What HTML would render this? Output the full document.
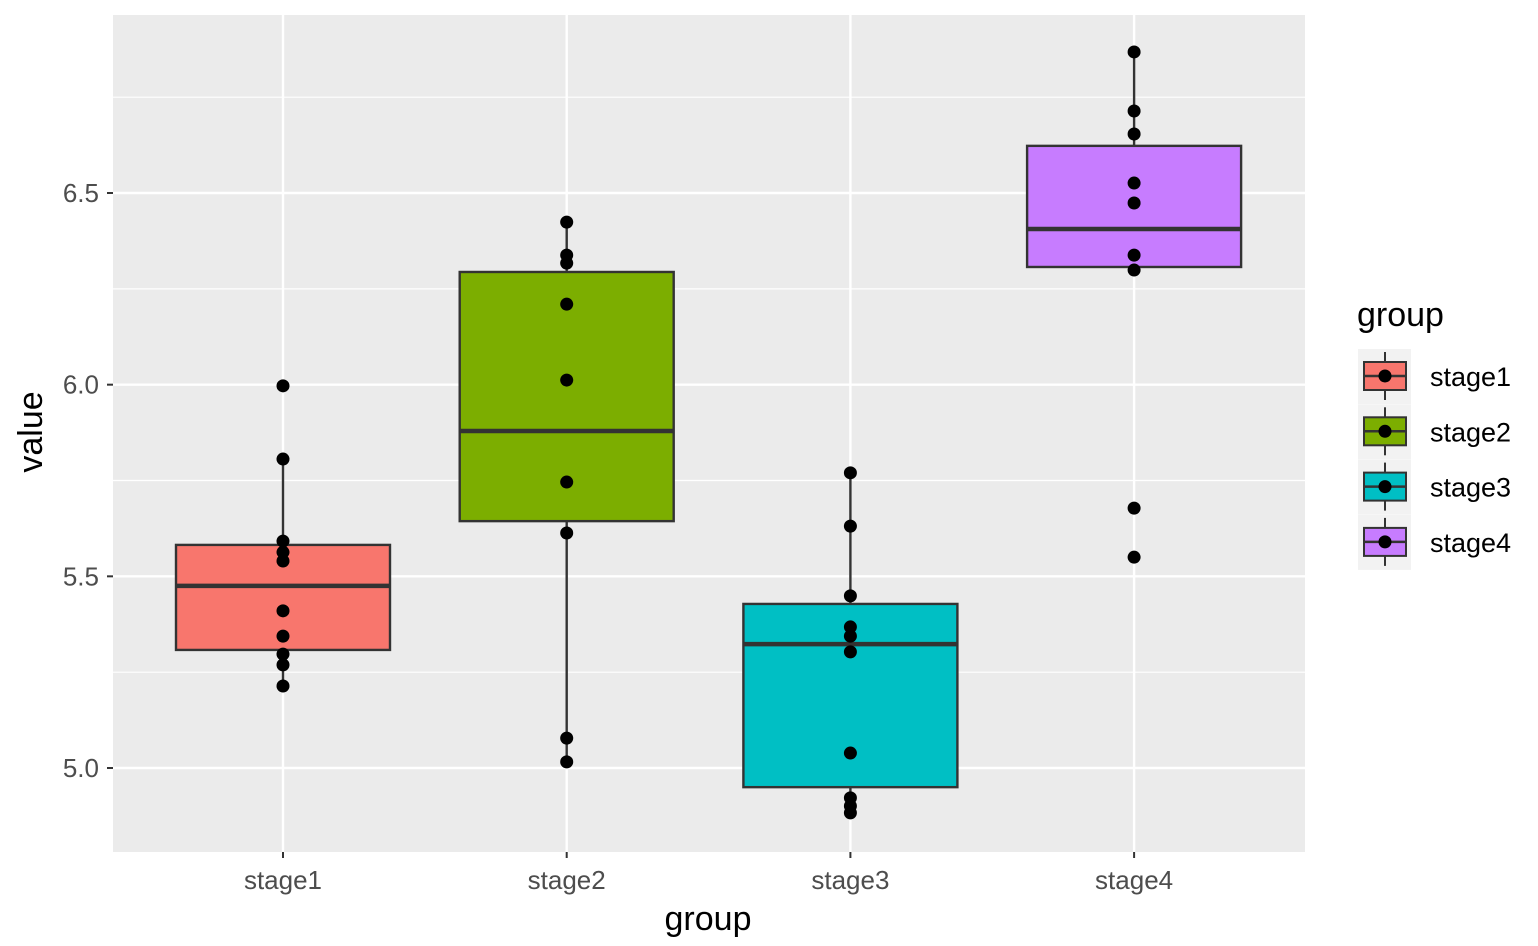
<!DOCTYPE html>
<html><head><meta charset="utf-8"><style>
body{margin:0;background:#fff;}
svg{display:block;font-family:"Liberation Sans",Arial,sans-serif;}
</style></head><body>
<svg id="chart" width="1538" height="946"></svg>
<script>
const categories=["stage1","stage2","stage3","stage4"];
const colors=["#F8766D","#7CAE00","#00BFC4","#C77CFF"];
const q1=[5.308,5.644,4.950,6.307];
const medians=[5.475,5.879,5.323,6.406];
const q3=[5.582,6.294,5.428,6.623];
const whiskLo=[5.214,5.016,4.883,6.307];
const whiskHi=[5.806,6.424,5.770,6.868];
const points=[
[5.997,5.806,5.592,5.563,5.540,5.410,5.344,5.297,5.269,5.214],
[6.424,6.338,6.317,6.210,6.012,5.746,5.613,5.078,5.016],
[5.770,5.631,5.449,5.368,5.344,5.303,5.039,4.922,4.901,4.883],
[6.868,6.714,6.654,6.526,6.474,6.338,6.299,5.678,5.550]];
const yTicks=[5.0,5.5,6.0,6.5];
const yMinor=[5.25,5.75,6.25,6.75];
const tickLabels=["5.0","5.5","6.0","6.5"];

const NS="http://www.w3.org/2000/svg";
const svg=document.getElementById("chart");
const PL=113,PR=1305,PT=15,PB=852;
const y=v=>768-(v-5)*383.33;
const x=i=>283+i*283.7;
function mk(t,a,p){const e=document.createElementNS(NS,t);for(const k in a)e.setAttribute(k,a[k]);(p||svg).appendChild(e);return e;}

let bg=mk("rect",{x:PL,y:PT,width:PR-PL,height:PB-PT,fill:"#EBEBEB"});


yMinor.forEach(v=>{let l=mk("line",{x1:PL,x2:PR,y1:y(v),y2:y(v),stroke:"#fff","stroke-width":1.2});

});
yTicks.forEach((v,i)=>{let l=mk("line",{x1:PL,x2:PR,y1:y(v),y2:y(v),stroke:"#fff","stroke-width":2.4});


mk("line",{x1:PL-6,x2:PL,y1:y(v),y2:y(v),stroke:"#333","stroke-width":2});
let t=mk("text",{x:PL-14,y:y(v)+9,"text-anchor":"end","font-size":26,fill:"#4D4D4D"});t.textContent=tickLabels[i];

});
categories.forEach((c,i)=>{let l=mk("line",{x1:x(i),x2:x(i),y1:PT,y2:PB,stroke:"#fff","stroke-width":2.4});


mk("line",{x1:x(i),x2:x(i),y1:PB,y2:PB+6,stroke:"#333","stroke-width":2});
let t=mk("text",{x:x(i),y:889,"text-anchor":"middle","font-size":26,fill:"#4D4D4D"});t.textContent=c;

});
categories.forEach((c,i)=>{
const g=mk("g",{});


mk("line",{x1:x(i),x2:x(i),y1:y(whiskHi[i]),y2:y(q3[i]),stroke:"#333","stroke-width":2.4},g);
mk("line",{x1:x(i),x2:x(i),y1:y(q1[i]),y2:y(whiskLo[i]),stroke:"#333","stroke-width":2.4},g);
mk("rect",{x:x(i)-107,y:y(q3[i]),width:214,height:y(q1[i])-y(q3[i]),fill:colors[i],stroke:"#333","stroke-width":2.4},g);
mk("line",{x1:x(i)-107,x2:x(i)+107,y1:y(medians[i]),y2:y(medians[i]),stroke:"#333","stroke-width":4.5},g);
points[i].forEach(v=>{let p=mk("circle",{cx:x(i),cy:y(v),r:6.5,fill:"#000"});

});
});
let yt=mk("text",{x:42,y:432,"text-anchor":"middle","font-size":34,fill:"#000",transform:"rotate(-90 42 432)"});yt.textContent="value";


let xt=mk("text",{x:708,y:930,"text-anchor":"middle","font-size":34,fill:"#000"});xt.textContent="group";


let lt=mk("text",{x:1357,y:326,"font-size":34,fill:"#000"});lt.textContent="group";


categories.forEach((c,i)=>{
const cy=376+i*55.3;
const g=mk("g",{});


mk("rect",{x:1358,y:cy-27,width:53,height:55,fill:"#F2F2F2"},g);
mk("line",{x1:1385,x2:1385,y1:cy-24,y2:cy+24,stroke:"#333","stroke-width":2},g);
mk("rect",{x:1364,y:cy-14,width:42,height:28,fill:colors[i],stroke:"#333","stroke-width":2},g);
mk("line",{x1:1364,x2:1406,y1:cy,y2:cy,stroke:"#333","stroke-width":2.5},g);
mk("circle",{cx:1385,cy:cy,r:6.5,fill:"#000"},g);
const t=mk("text",{x:1430,y:cy+10,"font-size":27,fill:"#000"},g);t.textContent=c;
});
</script>
</body></html>
